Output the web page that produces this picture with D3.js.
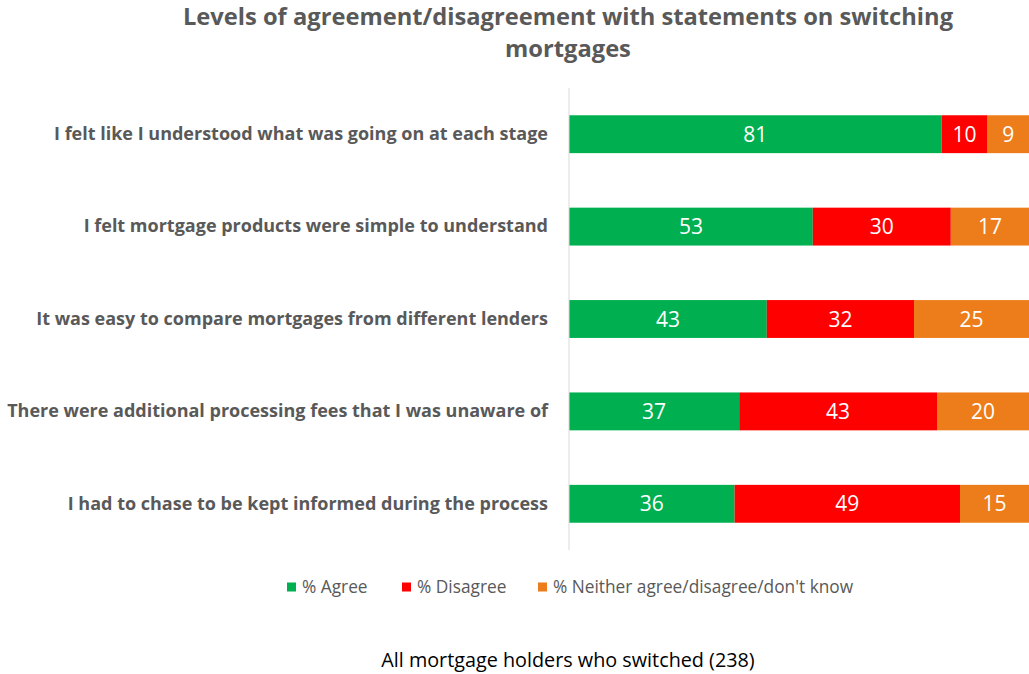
<!DOCTYPE html>
<html>
<head>
<meta charset="utf-8">
<script src="https://cdn.jsdelivr.net/npm/d3@7"></script>
<style>
  body { margin: 0; background: #fff; }
  svg { display: block; }
</style>
</head>
<body>
<div id="chart-area"></div>
<script>
const statements = [
    "I felt like I understood what was going on at each stage",
    "I felt mortgage products were simple to understand",
    "It was easy to compare mortgages from different lenders",
    "There were additional processing fees that I was unaware of",
    "I had to chase to be kept informed during the process"
];
const agree = [81, 53, 43, 37, 36];
const disagree = [10, 30, 32, 43, 49];
const neither = [9, 17, 25, 20, 15];
const seriesNames = ["% Agree", "% Disagree", "% Neither agree/disagree/don't know"];

const WIDTH = 1029,
    HEIGHT = 674,
    AXIS_X = 569,
    RIGHT_X = 1029,
    TOP_Y = 88,
    BOTTOM_Y = 550,
    COLORS = ["#00B050", "#FF0000", "#EC7D1A"],
    TEXT_GRAY = "#595959",
    FONT = "'Open Sans', 'Liberation Sans', sans-serif";

const rows = statements.map((s, i) => ({ statement: s, agree: agree[i], disagree: disagree[i], neither: neither[i] }));
const keys = ["agree", "disagree", "neither"];
const stacked = d3.stack().keys(keys)(rows);

const svg = d3.select("#chart-area")
    .append("svg")
    .attr("width", WIDTH)
    .attr("height", HEIGHT)
    .style("font-family", FONT);

const x = d3.scaleLinear().domain([0, 100]).range([AXIS_X, RIGHT_X]);
const y = d3.scaleBand()
    .domain(statements)
    .range([TOP_Y, BOTTOM_Y])
    .paddingInner(0.59)
    .paddingOuter(0.295);

// title
svg.append("text")
    .attr("text-anchor", "middle")
    .attr("fill", TEXT_GRAY)
    .attr("font-weight", "bold")
    .attr("font-size", 23.7)
    .selectAll("tspan")
    .data(["Levels of agreement/disagreement with statements on switching", "mortgages"])
    .join("tspan")
    .attr("x", 568)
    .attr("y", (d, i) => 25 + i * 32)
    .text(d => d);

// bars
const groups = svg.append("g")
    .selectAll("g")
    .data(stacked)
    .join("g")
    .attr("fill", (d, i) => COLORS[i]);

groups.selectAll("rect")
    .data(d => d)
    .join("rect")
    .attr("x", d => x(d[0]))
    .attr("y", d => y(d.data.statement))
    .attr("width", d => x(d[1]) - x(d[0]))
    .attr("height", y.bandwidth());

groups.selectAll("text")
    .data(d => d)
    .join("text")
    .attr("x", d => (x(d[0]) + x(d[1])) / 2)
    .attr("y", d => y(d.data.statement) + y.bandwidth() / 2)
    .attr("dy", "0.36em")
    .attr("text-anchor", "middle")
    .attr("fill", "#fff")
    .attr("font-size", 21)
    .text(d => d[1] - d[0]);

// axis
const yAxis = svg.append("g")
    .attr("transform", `translate(${AXIS_X},0)`)
    .call(d3.axisLeft(y).tickSize(0).tickPadding(21));

yAxis.select(".domain")
    .attr("stroke", "#d9d9d9")
    .attr("d", `M0,${TOP_Y}V${BOTTOM_Y}`);

yAxis.selectAll(".tick text")
    .attr("fill", TEXT_GRAY)
    .attr("font-weight", "bold")
    .attr("font-size", 18)
    .attr("font-family", FONT);

// legend
const legendX = [287, 402, 538];
const legend = svg.append("g")
    .selectAll("g")
    .data(seriesNames)
    .join("g")
    .attr("transform", (d, i) => `translate(${legendX[i]},587)`);

legend.append("rect")
    .attr("x", 0)
    .attr("y", -4.5)
    .attr("width", 9)
    .attr("height", 9)
    .attr("fill", (d, i) => COLORS[i]);

legend.append("text")
    .attr("x", 15)
    .attr("dy", "0.35em")
    .attr("fill", TEXT_GRAY)
    .attr("font-size", 17.3)
    .text(d => d);

// footnote
svg.append("text")
    .attr("x", 568)
    .attr("y", 667)
    .attr("text-anchor", "middle")
    .attr("fill", "#000")
    .attr("font-size", 19.8)
    .text("All mortgage holders who switched (238)");
</script>
</body>
</html>
